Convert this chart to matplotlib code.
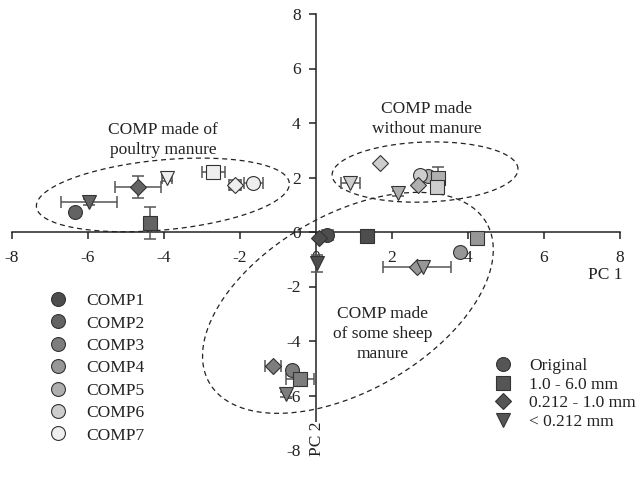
import numpy as np
import matplotlib
matplotlib.use("Agg")
import matplotlib.pyplot as plt
from matplotlib.lines import Line2D

plt.rcParams['font.family'] = 'serif'
plt.rcParams['font.serif'] = ['Liberation Serif', 'DejaVu Serif']
plt.rcParams['axes.unicode_minus'] = False

comps = ['COMP1', 'COMP2', 'COMP3', 'COMP4', 'COMP5', 'COMP6', 'COMP7']
comp_colors = ['#4d4d4d', '#636363', '#7d7d7d', '#979797', '#afafaf', '#cdcdcd', '#eeeeee']

fractions = ['Original', '1.0 - 6.0 mm', '0.212 - 1.0 mm', '< 0.212 mm']
markers = ['o', 's', 'D', 'v']
msizes = [10, 9.5, 8, 10.5]

# PC scores, one list per fraction, ordered COMP1..COMP7
pc1_original = [0.30, -6.35, -0.63, 3.80, 2.95, 2.74, -1.65]
pc2_original = [-0.10, 0.73, -5.05, -0.74, 2.05, 2.09, 1.78]
pc1_coarse = [1.34, -4.37, -0.42, 4.24, 3.20, 3.18, -2.70]
pc2_coarse = [-0.15, 0.33, -5.40, -0.22, 1.97, 1.65, 2.20]
pc1_medium = [0.08, -4.68, -1.13, 2.66, 2.68, 1.68, -2.13]
pc2_medium = [-0.22, 1.65, -4.90, -1.30, 1.72, 2.53, 1.72]
pc1_fine = [0.03, -5.97, -0.79, 2.82, 2.16, 0.90, -3.92]
pc2_fine = [-1.15, 1.10, -5.96, -1.30, 1.42, 1.80, 1.98]

# standard deviations (0 = no bar)
xerr_original = [0.15, 0, 0, 0, 0, 0, 0.25]
yerr_original = [0, 0, 0, 0, 0, 0, 0]
xerr_coarse = [0, 0.12, 0.37, 0, 0, 0.1, 0.30]
yerr_coarse = [0, 0.60, 0, 0, 0.40, 0, 0]
xerr_medium = [0, 0.60, 0.22, 0.90, 0, 0, 0.15]
yerr_medium = [0, 0.40, 0, 0, 0, 0, 0.18]
xerr_fine = [0, 0.73, 0, 0, 0, 0.25, 0.12]
yerr_fine = [0.30, 0.10, 0.10, 0, 0.10, 0, 0.10]

pc1 = [pc1_original, pc1_coarse, pc1_medium, pc1_fine]
pc2 = [pc2_original, pc2_coarse, pc2_medium, pc2_fine]
xerrs = [xerr_original, xerr_coarse, xerr_medium, xerr_fine]
yerrs = [yerr_original, yerr_coarse, yerr_medium, yerr_fine]

W, H = 641, 483
fig = plt.figure(figsize=(W / 100, H / 100), dpi=100)
ax = fig.add_axes([12 / W, 1 - 450 / H, 608 / W, 436 / H])
ax.set_xlim(-8, 8)
ax.set_ylim(-8, 8)

for side in ['top', 'right']:
    ax.spines[side].set_visible(False)
ax.spines['left'].set_position('zero')
ax.spines['bottom'].set_position('zero')
for side in ['left', 'bottom']:
    ax.spines[side].set_linewidth(1.1)
    ax.spines[side].set_color('#222222')
ticks = np.arange(-8, 9, 2)
ax.set_xticks(ticks)
ax.set_yticks(ticks)
ax.set_xticklabels([str(t) for t in ticks])
ax.set_yticklabels([str(t) for t in ticks])
ax.tick_params(direction='out', length=5, width=1.1, color='#222222',
               labelsize=12.5, pad=6, labelcolor='#222222')
ax.tick_params(axis='x', pad=8)

edge = '#333333'
for f in range(4):
    for c in range(7):
        xe = xerrs[f][c]
        ye = yerrs[f][c]
        if xe or ye:
            ax.errorbar(pc1[f][c], pc2[f][c], xerr=xe if xe else None,
                        yerr=ye if ye else None, fmt='none', ecolor='#555555',
                        elinewidth=1.1, capsize=4, capthick=1.1, zorder=3)
        ax.plot(pc1[f][c], pc2[f][c], marker=markers[f], ms=msizes[f],
                mfc=comp_colors[c], mec=edge, mew=0.8, ls='none', zorder=4)


def dashed_ellipse(cx, cy, a_px, b_px, angle):
    t = np.linspace(0, 2 * np.pi, 400)
    ox, oy = ax.transData.transform((cx, cy))
    th = np.radians(angle)
    px = ox + a_px * np.cos(t) * np.cos(th) - b_px * np.sin(t) * np.sin(th)
    py = oy + a_px * np.cos(t) * np.sin(th) + b_px * np.sin(t) * np.cos(th)
    xy = ax.transData.inverted().transform(np.column_stack([px, py]))
    ax.plot(xy[:, 0], xy[:, 1], ls=(0, (4, 3)), color='#222222', lw=0.9, zorder=2)


dashed_ellipse(-4.03, 1.36, 127, 35, 5.4)
dashed_ellipse(2.87, 2.2, 93, 30, 2)
dashed_ellipse(0.84, -2.6, 160, 88, 30)

txt = dict(ha='center', va='center', fontsize=12.5, color='#222222', linespacing=1.3)
ax.text(-4.03, 3.37, 'COMP made of\npoultry manure', **txt)
ax.text(2.92, 4.14, 'COMP made\nwithout manure', **txt)
ax.text(1.76, -3.74, 'COMP made\nof some sheep\nmanure', **txt)

ax.text(7.6, -1.57, 'PC 1', ha='center', va='center', fontsize=12.5, color='#222222')
ax.text(0.03, -7.6, 'PC 2', ha='center', va='center', rotation=90, fontsize=12.5,
        color='#222222', bbox=dict(fc='white', ec='none', pad=0))

comp_handles = [Line2D([], [], marker='o', ls='none', ms=10, mfc=col, mec=edge, mew=0.8)
                for col in comp_colors]
leg1 = fig.legend(comp_handles, comps, loc='upper left',
                  bbox_to_anchor=(49.5 / W, 1 - 293 / H), frameon=False,
                  fontsize=12.5, handlelength=1, handletextpad=1.1,
                  borderpad=0, borderaxespad=0, labelspacing=0.36)

frac_handles = [Line2D([], [], marker=m, ls='none', ms=s, mfc='#555555', mec=edge, mew=0.8)
                for m, s in zip(markers, msizes)]
leg2 = fig.legend(frac_handles, fractions, loc='upper left',
                  bbox_to_anchor=(494.5 / W, 1 - 358 / H), frameon=False,
                  fontsize=12.5, handlelength=1, handletextpad=1.0,
                  borderpad=0, borderaxespad=0, labelspacing=0.14)
for lg in (leg1, leg2):
    for t in lg.get_texts():
        t.set_color('#222222')

fig.savefig('out.png', dpi=100)
